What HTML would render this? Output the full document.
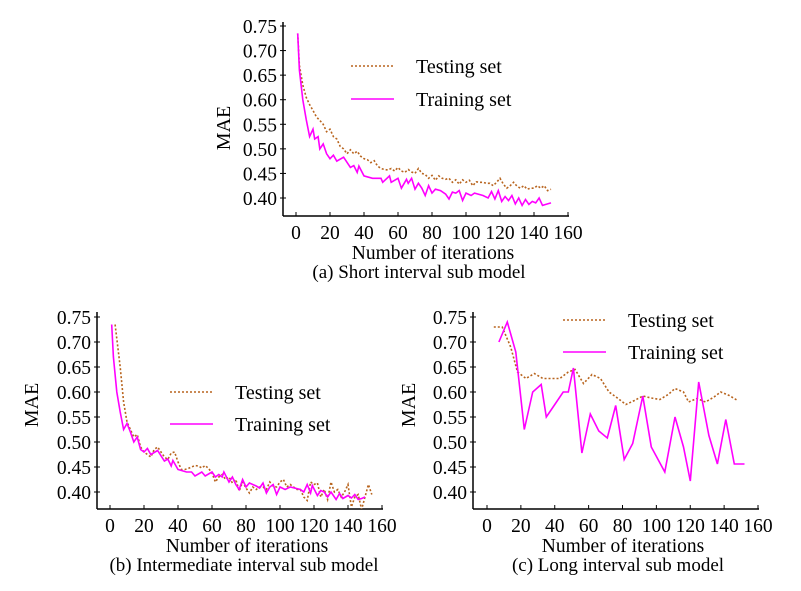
<!DOCTYPE html>
<html><head><meta charset="utf-8"><style>
body{margin:0;background:#fff;width:801px;height:586px;overflow:hidden}
svg text{font-family:"Liberation Serif",serif;fill:#000}
</style></head><body>
<svg id="fig" width="801" height="586" viewBox="0 0 801 586"></svg>
<script>
// ---- data ----
const yTicks=[0.40,0.45,0.50,0.55,0.60,0.65,0.70,0.75];
const xTicks=[0,20,40,60,80,100,120,140,160];
const aTestX=[1,2,4,6,8,10,12,14,16,18,20,22,24,26,28,30,32,34,36,38,40,42,44,46,48,50,52,54,56,58,60,62,64,66,68,70,72,74,76,78,80,82,84,86,88,90,92,94,96,98,100,102,104,106,108,110,112,114,116,118,120,122,124,126,128,130,132,134,136,138,140,142,144,146,148,150];
const aTestY=[0.735,0.67,0.63,0.605,0.59,0.578,0.565,0.558,0.55,0.535,0.54,0.525,0.52,0.505,0.5,0.49,0.498,0.49,0.495,0.485,0.48,0.478,0.472,0.476,0.465,0.46,0.458,0.457,0.46,0.455,0.462,0.455,0.452,0.458,0.453,0.45,0.46,0.45,0.448,0.44,0.446,0.436,0.445,0.44,0.438,0.44,0.432,0.437,0.428,0.437,0.432,0.436,0.425,0.433,0.432,0.432,0.43,0.43,0.425,0.432,0.44,0.428,0.42,0.425,0.432,0.424,0.42,0.425,0.418,0.42,0.42,0.425,0.42,0.425,0.415,0.418];
const aTrainX=[1,2,4,6,8,10,11,13,14,16,18,20,22,24,28,32,34,36,37,40,45,50,51,55,56,60,62,65,66,68,70,72,74,76,78,80,82,85,88,90,92,94,96,98,100,103,105,110,113,115,117,119,121,123,125,127,129,131,133,135,137,139,141,143,145,147,150];
const aTrainY=[0.735,0.66,0.6,0.56,0.525,0.54,0.52,0.525,0.5,0.51,0.49,0.48,0.487,0.475,0.483,0.462,0.466,0.452,0.465,0.445,0.44,0.44,0.432,0.445,0.432,0.44,0.42,0.438,0.43,0.44,0.418,0.43,0.42,0.405,0.425,0.41,0.418,0.415,0.408,0.398,0.412,0.41,0.415,0.395,0.41,0.405,0.41,0.405,0.4,0.413,0.398,0.415,0.393,0.403,0.395,0.405,0.388,0.4,0.385,0.397,0.387,0.393,0.39,0.4,0.385,0.387,0.39];
const bTestX=[3,6,8,10,12,14,16,18,20,22,24,26,28,30,32,34,36,38,40,42,44,46,48,50,52,54,56,58,60,62,64,66,68,70,72,74,76,78,80,82,84,86,88,90,92,94,96,98,100,102,104,106,108,110,112,114,116,118,120,122,124,126,128,130,132,134,136,138,140,142,144,146,148,150,152,154];
const bTestY=[0.735,0.65,0.58,0.54,0.525,0.51,0.515,0.49,0.48,0.475,0.47,0.485,0.49,0.48,0.47,0.465,0.478,0.48,0.46,0.445,0.445,0.447,0.45,0.453,0.452,0.448,0.453,0.447,0.438,0.42,0.43,0.435,0.425,0.43,0.418,0.425,0.402,0.42,0.408,0.398,0.41,0.405,0.41,0.41,0.405,0.42,0.412,0.41,0.42,0.425,0.41,0.415,0.41,0.405,0.405,0.39,0.383,0.42,0.415,0.418,0.39,0.405,0.385,0.42,0.4,0.405,0.39,0.4,0.415,0.37,0.39,0.395,0.365,0.39,0.415,0.395];
const bTrainX=[1,2,4,6,8,10,12,14,16,18,20,22,24,28,32,34,36,37,40,45,48,50,54,56,60,62,64,66,67,70,72,74,76,78,80,82,86,88,90,92,94,96,98,100,103,106,112,114,116,118,119,122,124,126,128,130,133,135,137,140,142,144,146,148,150];
const bTrainY=[0.735,0.67,0.6,0.56,0.525,0.537,0.52,0.5,0.51,0.485,0.48,0.487,0.475,0.483,0.462,0.466,0.452,0.463,0.445,0.44,0.44,0.432,0.44,0.432,0.44,0.43,0.435,0.43,0.44,0.42,0.43,0.415,0.405,0.425,0.41,0.418,0.412,0.408,0.418,0.398,0.41,0.415,0.395,0.41,0.405,0.41,0.405,0.4,0.415,0.398,0.413,0.393,0.403,0.4,0.39,0.4,0.385,0.397,0.387,0.393,0.388,0.395,0.385,0.387,0.39];
const cTestX=[4,9,14,18,23,28,33,38,43,48,52,57,62,67,72,77,82,87,92,97,102,107,111,116,119,124,129,134,138,143,148];
const cTestY=[0.73,0.73,0.69,0.64,0.627,0.637,0.627,0.627,0.627,0.64,0.645,0.617,0.635,0.627,0.6,0.588,0.575,0.583,0.592,0.588,0.585,0.595,0.607,0.6,0.58,0.587,0.58,0.59,0.6,0.593,0.583];
const cTrainX=[7,12,17,22,27,32,35,40,45,48,51,56,61,66,71,76,81,86,92,97,105,111,116,120,125,131,136,141,146,152];
const cTrainY=[0.7,0.74,0.68,0.525,0.6,0.615,0.55,0.575,0.6,0.6,0.648,0.478,0.556,0.522,0.508,0.573,0.465,0.497,0.592,0.49,0.44,0.55,0.49,0.422,0.62,0.513,0.456,0.545,0.456,0.456];

const NS="http://www.w3.org/2000/svg";
const svg=document.getElementById('fig');
function el(tag,attrs,parent,txt){const e=document.createElementNS(NS,tag);for(const k in attrs)e.setAttribute(k,attrs[k]);if(txt!==undefined)e.textContent=txt;(parent||svg).appendChild(e);return e;}

function chart(cfg){
  const g=el('g',{});
  
  
  const sx=v=>cfg.x0+(v/160)*(cfg.x160-cfg.x0);
  const sy=v=>cfg.y75+(0.75-v)/0.35*(cfg.y40-cfg.y75);
  const cid='clip-'+cfg.name;
  const cp=el('clipPath',{id:cid},g);
  el('rect',{x:cfg.axX,y:cfg.top-10,width:cfg.right-cfg.axX+20,height:cfg.axY-cfg.top+10},cp);
  const ya=el('line',{x1:cfg.axX,y1:cfg.top,x2:cfg.axX,y2:cfg.axY,stroke:'#000','stroke-width':1.5},g);
  
  const xa=el('line',{x1:cfg.axX,y1:cfg.axY,x2:cfg.right,y2:cfg.axY,stroke:'#000','stroke-width':1.5},g);
  
  yTicks.forEach(t=>{const y=sy(t);
    el('line',{x1:cfg.axX-3,y1:y,x2:cfg.axX+3,y2:y,stroke:'#000','stroke-width':1},g);
    const tx=el('text',{x:cfg.axX-6,y:y+7,'text-anchor':'end','font-size':19.5},g,t.toFixed(2));
    });
  xTicks.forEach(t=>{const x=sx(t);
    el('line',{x1:x,y1:cfg.axY,x2:x,y2:cfg.axY-4,stroke:'#000','stroke-width':1},g);
    const tx=el('text',{x:x,y:cfg.axY+23,'text-anchor':'middle','font-size':19.5},g,String(t));
    });
  const yl=el('text',{x:0,y:0,'text-anchor':'middle','font-size':20,transform:`translate(${cfg.ylx},${cfg.yly}) rotate(-90)`},g,'MAE');
  
  const xl=el('text',{x:(cfg.axX+cfg.right)/2+7,y:cfg.axY+43,'text-anchor':'middle','font-size':19.5},g,'Number of iterations');
  
  const cap=el('text',{x:cfg.capX,y:cfg.axY+62,'text-anchor':'middle','font-size':19},g,cfg.caption);
  
  const line=(xs,ys,style,nm)=>{
    const p=el('polyline',Object.assign({points:xs.map((x,i)=>sx(x).toFixed(1)+','+sy(ys[i]).toFixed(1)).join(' '),fill:'none','clip-path':`url(#${cid})`},style),g);
    };
  const testStyle={stroke:'#b8641e','stroke-width':1.6,'stroke-dasharray':'2,2'};
  const trainStyle={stroke:'#ff00ff','stroke-width':1.6};
  line(cfg.testX,cfg.testY,testStyle,'testing-set-line');
  line(cfg.trainX,cfg.trainY,trainStyle,'training-set-line');
  const L=cfg.leg;
  const l1=el('g',{},g);
  el('line',Object.assign({x1:L.x,y1:L.y1,x2:L.x+43,y2:L.y1},testStyle),l1);
  el('text',{x:L.tx,y:L.y1+7,'font-size':20},l1,'Testing set');
  const l2=el('g',{},g);
  el('line',Object.assign({x1:L.x,y1:L.y2,x2:L.x+43,y2:L.y2},trainStyle),l2);
  el('text',{x:L.tx,y:L.y2+7,'font-size':20},l2,'Training set');
}
chart({name:'chart-a-short-interval',x0:296,x160:568,y75:26,y40:198,axX:283,axY:216,top:22,right:569,ylx:230,yly:128,capX:419,caption:'(a) Short interval sub model',
  testX:aTestX,testY:aTestY,trainX:aTrainX,trainY:aTrainY,leg:{x:351,tx:416,y1:66,y2:99}});
chart({name:'chart-b-intermediate-interval',x0:110,x160:382,y75:317,y40:492,axX:97,axY:509,top:312,right:383,ylx:38,yly:405,capX:244,caption:'(b) Intermediate interval sub model',
  testX:bTestX,testY:bTestY,trainX:bTrainX,trainY:bTrainY,leg:{x:170,tx:235,y1:392,y2:424}});
chart({name:'chart-c-long-interval',x0:487,x160:758,y75:317,y40:492,axX:473,axY:509,top:312,right:759,ylx:415,yly:405,capX:618,caption:'(c) Long interval sub model',
  testX:cTestX,testY:cTestY,trainX:cTrainX,trainY:cTrainY,leg:{x:563,tx:628,y1:320,y2:352}});
</script>
</body></html>
